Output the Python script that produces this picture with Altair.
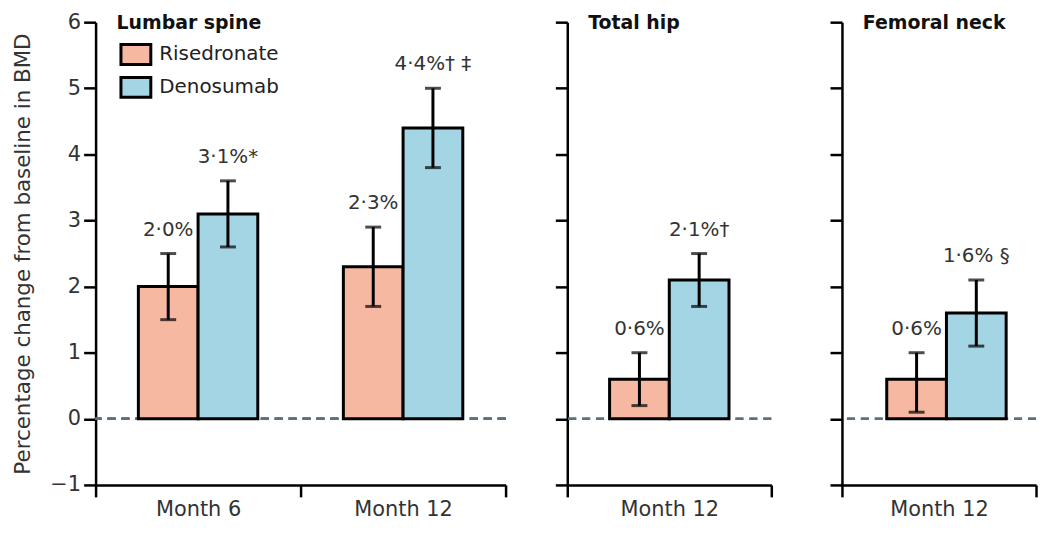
import altair as alt
import pandas as pd

treatments = ["Risedronate", "Denosumab"]
colors = ["#F6B8A0", "#A3D5E5"]

lumbar_months = ["Month 6", "Month 6", "Month 12", "Month 12"]
lumbar_groups = ["Risedronate", "Denosumab", "Risedronate", "Denosumab"]
lumbar_values = [2.0, 3.1, 2.3, 4.4]
lumbar_low = [1.5, 2.6, 1.7, 3.8]
lumbar_high = [2.5, 3.6, 2.9, 5.0]
lumbar_labels = ["2·0%", "3·1%*", "2·3%", "4·4%† ‡"]

hip_months = ["Month 12", "Month 12"]
hip_groups = ["Risedronate", "Denosumab"]
hip_values = [0.6, 2.1]
hip_low = [0.2, 1.7]
hip_high = [1.0, 2.5]
hip_labels = ["0·6%", "2·1%†"]

neck_months = ["Month 12", "Month 12"]
neck_groups = ["Risedronate", "Denosumab"]
neck_values = [0.6, 1.6]
neck_low = [0.1, 1.1]
neck_high = [1.0, 2.1]
neck_labels = ["0·6%", "1·6% §"]

y_ticks = [-1, 0, 1, 2, 3, 4, 5, 6]
y_title = "Percentage change from baseline in BMD"

FONT = "DejaVu Sans"
BAR_W = 60


def make_df(months, groups, values, low, high, labels):
    return pd.DataFrame({"month": months, "treatment": groups, "value": values,
                         "low": low, "high": high, "label": labels})


def panel(df, title, width, first, bar_align=0.5):
    months = list(dict.fromkeys(df["month"]))
    band = width / len(months)
    outer = (band / BAR_W - 2) / 2
    xs = alt.X("month:N", sort=months,
               scale=alt.Scale(paddingInner=0, paddingOuter=0),
               axis=alt.Axis(title=None, tickBand="extent", labelAngle=0))
    xo = alt.XOffset("treatment:N", sort=treatments,
                     scale=alt.Scale(domain=treatments, paddingInner=0, paddingOuter=outer,
                                     align=bar_align))

    def yenc(field):
        return alt.Y(field, type="quantitative",
                     scale=alt.Scale(domain=[-1, 6], nice=False, zero=False),
                     axis=alt.Axis(values=y_ticks, grid=False, labels=first, format="d",
                                   title=y_title if first else None))

    base = alt.Chart(df)
    zero = base.mark_rule(strokeDash=[8, 6], color="#5E7079", strokeWidth=2.5).encode(
        y=alt.datum(0))
    legend = alt.Legend(title=None, orient="none", legendX=29, legendY=21,
                        symbolType="M-1.5,-1H1.5V1H-1.5Z", symbolSize=400,
                        symbolStrokeColor="black", symbolStrokeWidth=3,
                        labelFontSize=20, labelFont=FONT, labelColor="#222",
                        rowPadding=0, labelOffset=12, padding=0) if first else None
    bars = base.mark_bar(stroke="black", strokeWidth=3).encode(
        x=xs, xOffset=xo, y=yenc("value"),
        color=alt.Color("treatment:N", scale=alt.Scale(domain=treatments, range=colors),
                        legend=legend))
    err = base.mark_rule(color="black", strokeWidth=3).encode(
        x=xs, xOffset=xo, y=yenc("low"), y2="high")
    cap_lo = base.mark_tick(color="black", thickness=3, size=16, orient="horizontal").encode(
        x=xs, xOffset=xo, y=yenc("low"))
    cap_hi = base.mark_tick(color="black", thickness=3, size=16, orient="horizontal").encode(
        x=xs, xOffset=xo, y=yenc("high"))
    text = base.mark_text(font=FONT, fontSize=20, color="#333", dy=-24, baseline="middle").encode(
        x=xs, xOffset=xo, y=yenc("high"), text="label:N")
    return alt.layer(zero, bars, err, cap_lo, cap_hi, text).properties(
        width=width, height=465,
        title=alt.TitleParams(title, anchor="start", frame="group", dx=21,
                              offset=-22 if first else -12,
                              fontSize=19, font=FONT, fontWeight="bold", color="#111"))


p1 = panel(make_df(lumbar_months, lumbar_groups, lumbar_values, lumbar_low, lumbar_high, lumbar_labels),
           "Lumbar spine", 412, True)
p2 = panel(make_df(hip_months, hip_groups, hip_values, hip_low, hip_high, hip_labels),
           "Total hip", 205, False)
p3 = panel(make_df(neck_months, neck_groups, neck_values, neck_low, neck_high, neck_labels),
           "Femoral neck", 195, False, bar_align=0.6)

right = alt.hconcat(p2, p3, spacing=55).resolve_scale(
    x="independent", y="independent", color="independent", xOffset="independent"
).resolve_legend(color="independent")

chart = alt.hconcat(p1, right, spacing=46).resolve_scale(
    x="independent", y="independent", color="independent", xOffset="independent"
).resolve_legend(color="independent").properties(
    padding={"left": 5, "top": 2, "right": 0, "bottom": 0}
).configure_view(stroke=None).configure_axis(
    domainColor="black", domainWidth=2.5, tickColor="black", tickWidth=2.5, tickSize=12,
    labelFont=FONT, labelColor="#333", labelPadding=3,
    titleFont=FONT, titleFontSize=21.5, titleColor="#333", titleFontWeight="normal",
    titlePadding=15
).configure_axisX(labelFontSize=21, labelPadding=2).configure_axisY(labelFontSize=21)

chart.save("out.html", embed_options={"renderer": "svg", "actions": False})
